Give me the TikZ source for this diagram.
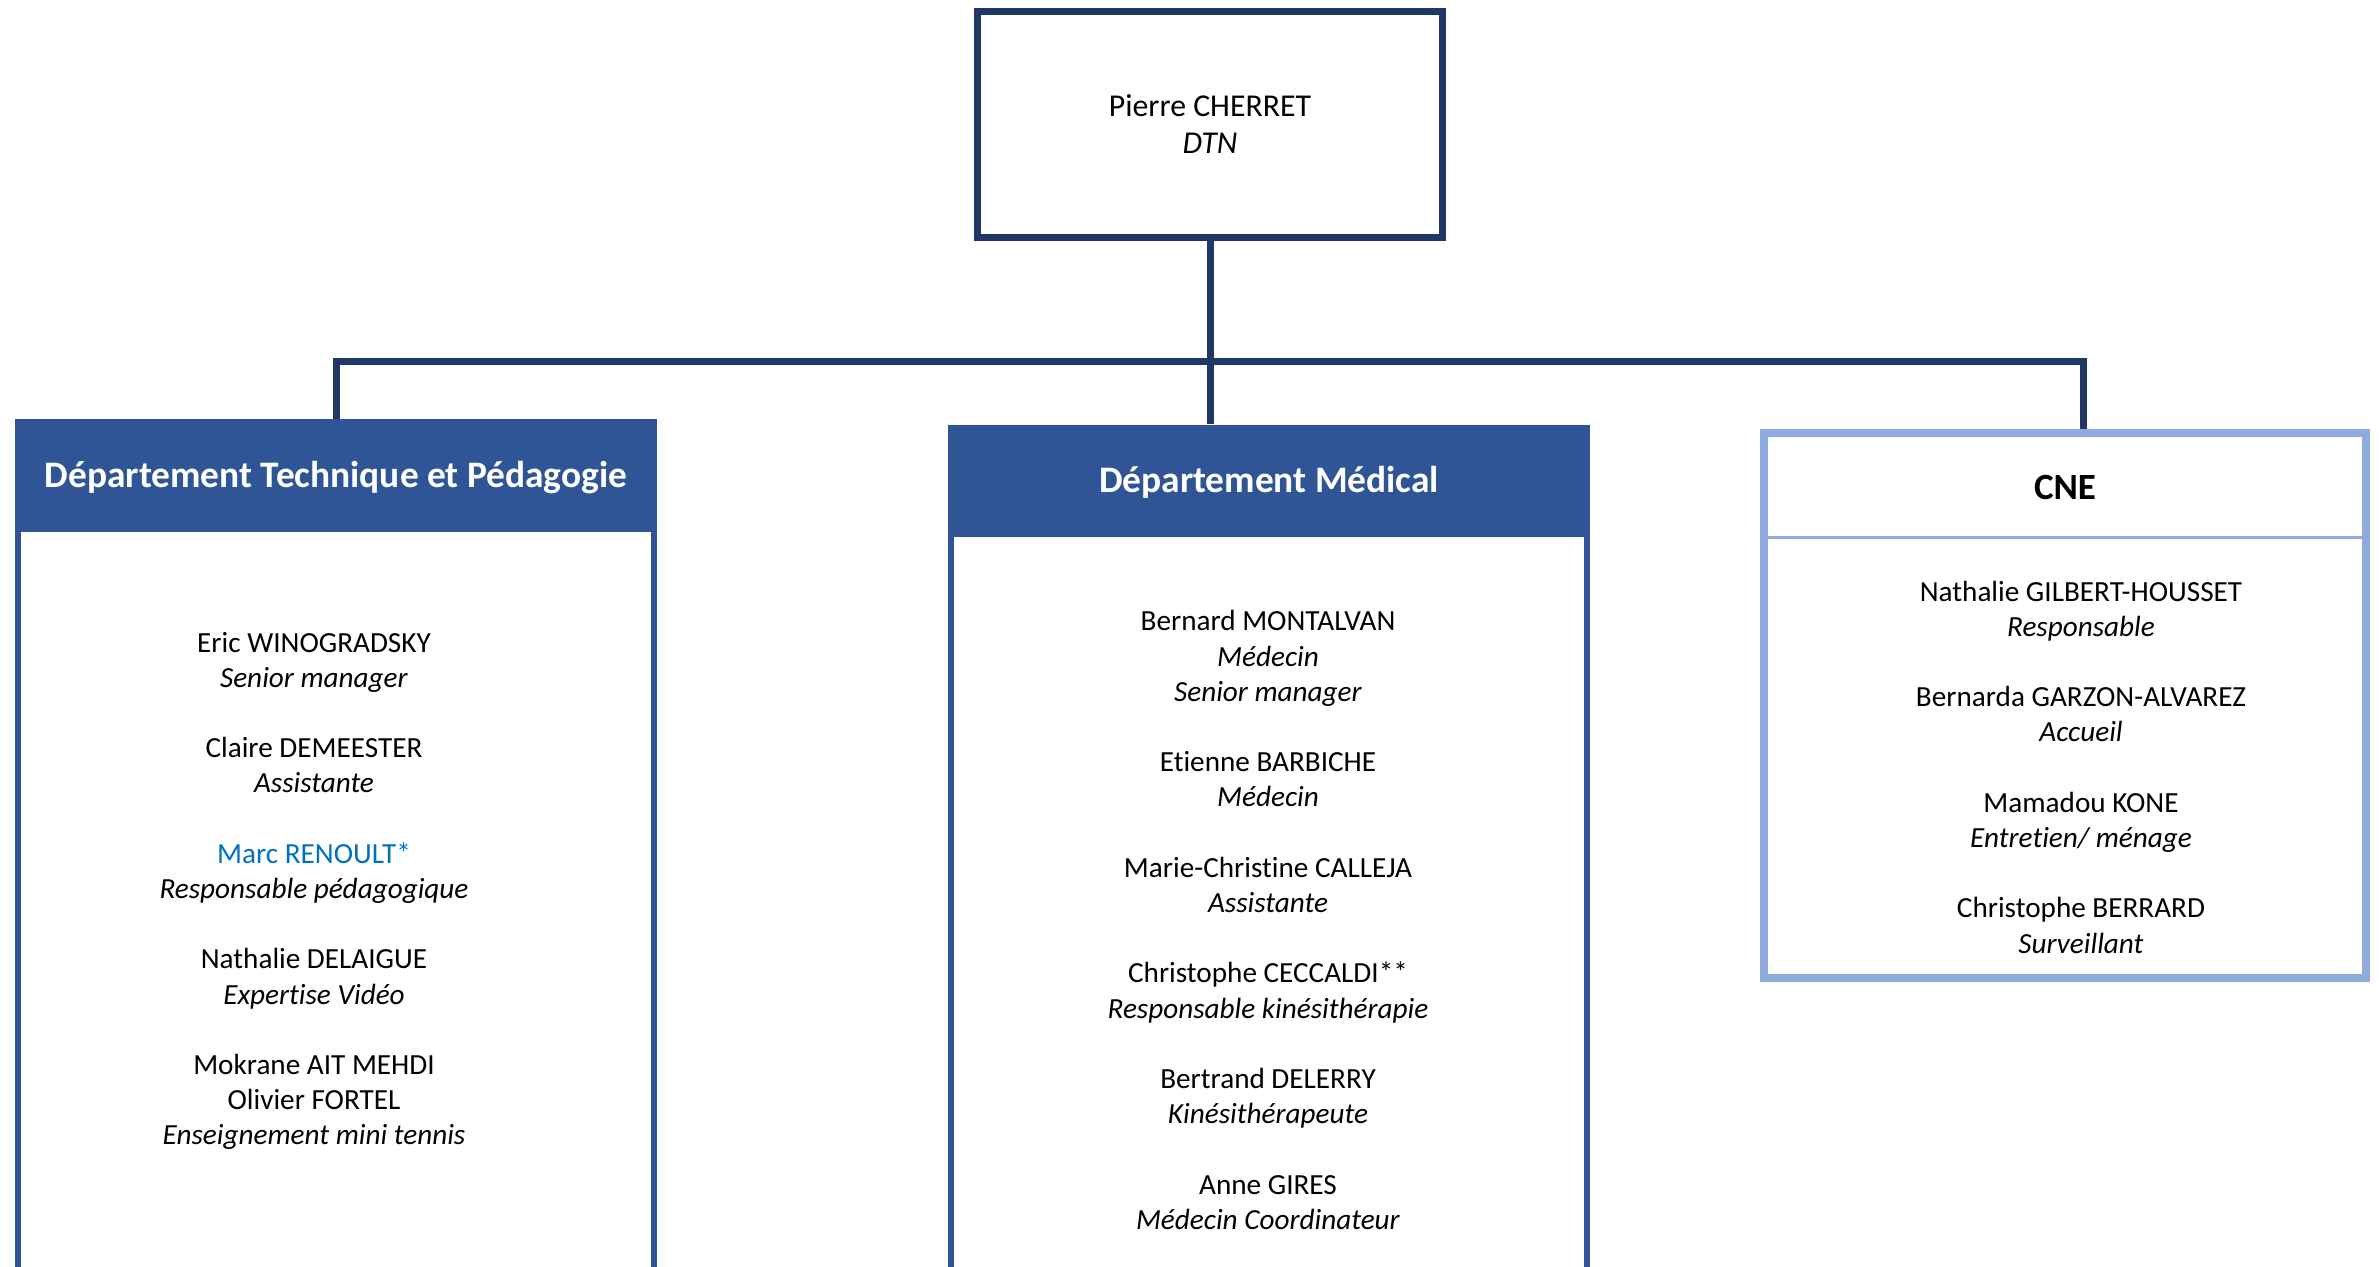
\documentclass[tikz,border=0pt]{standalone}
\usepackage{fontspec}
\setmainfont{Carlito}[Ligatures=NoCommon]
\usepackage{xcolor}
\usetikzlibrary{positioning,calc}
\definecolor{marine}{RGB}{32,56,100}
\definecolor{bleudept}{RGB}{47,85,151}
\definecolor{bleuclair}{RGB}{143,170,220}
\definecolor{bleulien}{RGB}{0,112,192}
\tikzset{
	lien/.style={draw=marine,line width=7pt},
	chef/.style={draw=marine,line width=7pt,minimum width=465pt,minimum height=226pt,align=center,inner sep=0pt,font=\fontsize{31.8}{37}\selectfont},
	entete/.style={fill=bleudept,text=white,font=\fontsize{37.4}{44}\selectfont\bfseries,minimum width=642pt,minimum height=110pt,inner sep=0pt,text depth=0pt},
	corps/.style={draw=bleudept,line width=6pt,minimum width=636pt,minimum height=800pt,anchor=north,inner sep=0pt},
	cadre/.style={draw=bleuclair,line width=8pt,minimum width=602pt,minimum height=545pt,inner sep=0pt},
	liste/.style={align=center,font=\fontsize{29.2}{35.2}\selectfont,inner sep=0pt},
}

\begin{document}
\begin{tikzpicture}[x=1pt,y=-1pt]
	\def\blanc{\\[35.2pt]}
\useasboundingbox (0,0) rectangle (2379,1266);
\clip (0,0) rectangle (2379,1266); % coupe le bas des colonnes

%DTN
\node[chef] (dtn) at (1210,124) {Pierre CHERRET\\\textit{DTN}};

%Departements
\node[corps] (dtpcorps) at (336,526) {};
\node[entete] (dtp) at (336,474) {Département Technique et Pédagogie};
\node[corps] (medcorps) at (1269,531) {};
\node[entete] (med) at (1269,479.5) {Département Médical};

%CNE
\node[cadre] (cne) at (2065,705.5) {};
\node[font=\fontsize{37}{44}\selectfont\bfseries] (cnetitre) at (2065,487) {CNE};
\coordinate (sep) at (0,537);
\draw[bleuclair,line width=3pt] (cne.west |- sep) -- (cne.east |- sep);

%Liens
\coordinate (jn) at (1210,361);
\draw[lien] (dtn.south) -- (dtn.south |- med.north);
\draw[lien] (dtp.north) -- (dtp.north |- jn) -- ($(cne.north |- jn)+(18,0)$) -- ($(cne.north)+(18,0)$);

%Personnes
\node[liste] (dtpliste) at (314,891) {Eric WINOGRADSKY\\\textit{Senior manager}\blanc
	Claire DEMEESTER\\\textit{Assistante}\blanc
	\textcolor{bleulien}{Marc RENOULT*}\\\textit{Responsable pédagogique}\blanc
	Nathalie DELAIGUE\\\textit{Expertise Vidéo}\blanc
	Mokrane AIT MEHDI\\Olivier FORTEL\\\textit{Enseignement mini tennis}};

\node[liste] (medliste) at (1268,920) {Bernard MONTALVAN\\\textit{Médecin}\\\textit{Senior manager}\blanc
	Etienne BARBICHE\\\textit{Médecin}\blanc
	Marie-Christine CALLEJA\\\textit{Assistante}\blanc
	Christophe CECCALDI**\\\textit{Responsable kinésithérapie}\blanc
	Bertrand DELERRY\\\textit{Kinésithérapeute}\blanc
	Anne GIRES\\\textit{Médecin Coordinateur}};

\node[liste] (cneliste) at (2081,767) {Nathalie GILBERT-HOUSSET\\\textit{Responsable}\blanc
	Bernarda GARZON-ALVAREZ\\\textit{Accueil}\blanc
	Mamadou KONE\\\textit{Entretien/ ménage}\blanc
	Christophe BERRARD\\\textit{Surveillant}};

\end{tikzpicture}
\end{document}
